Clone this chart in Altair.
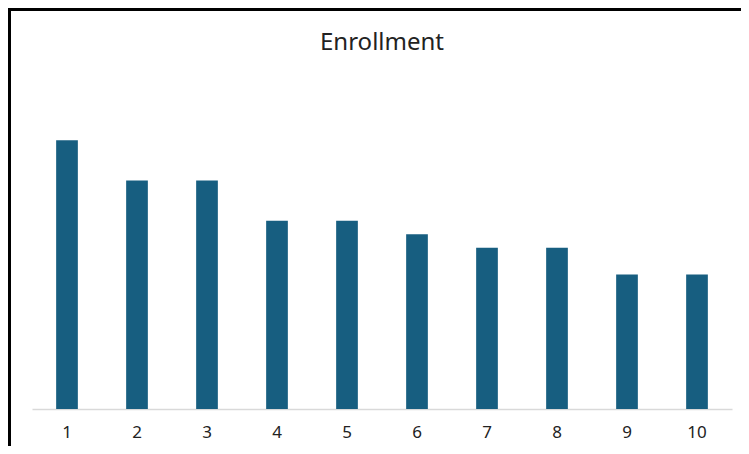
import altair as alt
import pandas as pd

categories = ["1", "2", "3", "4", "5", "6", "7", "8", "9", "10"]
enrollment = [20, 17, 17, 14, 14, 13, 12, 12, 10, 10]

df = pd.DataFrame({"cat": categories, "value": enrollment})

bars = alt.Chart(df).mark_bar(color="#175E80").encode(
    x=alt.X("cat:N", sort=categories, title=None,
            scale=alt.Scale(paddingInner=0.69, paddingOuter=0.345),
            axis=alt.Axis(labelAngle=0, ticks=False, domainColor="#D9D9D9",
                          domainWidth=1.5, labelFont="Noto Sans", labelFontSize=17,
                          labelColor="#222222", labelPadding=15, grid=False)),
    y=alt.Y("value:Q", title=None, scale=alt.Scale(domain=[0, 25]), axis=None),
)

frame = alt.Data(values=[{"k": 1}])
left_rule = alt.Chart(frame).mark_rule(color="black", strokeWidth=3).encode(
    x=alt.value(-22.5), y=alt.value(-65), y2=alt.value(375)
)
top_rule = alt.Chart(frame).mark_rule(color="black", strokeWidth=3).encode(
    x=alt.value(-24), x2=alt.value(709), y=alt.value(-63.5)
)

chart = alt.layer(bars, left_rule, top_rule).properties(
    width=700,
    height=336,
    title=alt.TitleParams("Enrollment", anchor="middle", font="Noto Sans",
                          fontSize=24, fontWeight="normal", color="#222222",
                          baseline="alphabetic", offset=-67, frame="group"),
    autosize=alt.AutoSizeParams(type="none"),
    padding={"left": 24, "top": 65, "right": 9, "bottom": 37},
).configure_view(stroke=None)

chart.save("out.html", embed_options={"renderer": "svg", "actions": False})
